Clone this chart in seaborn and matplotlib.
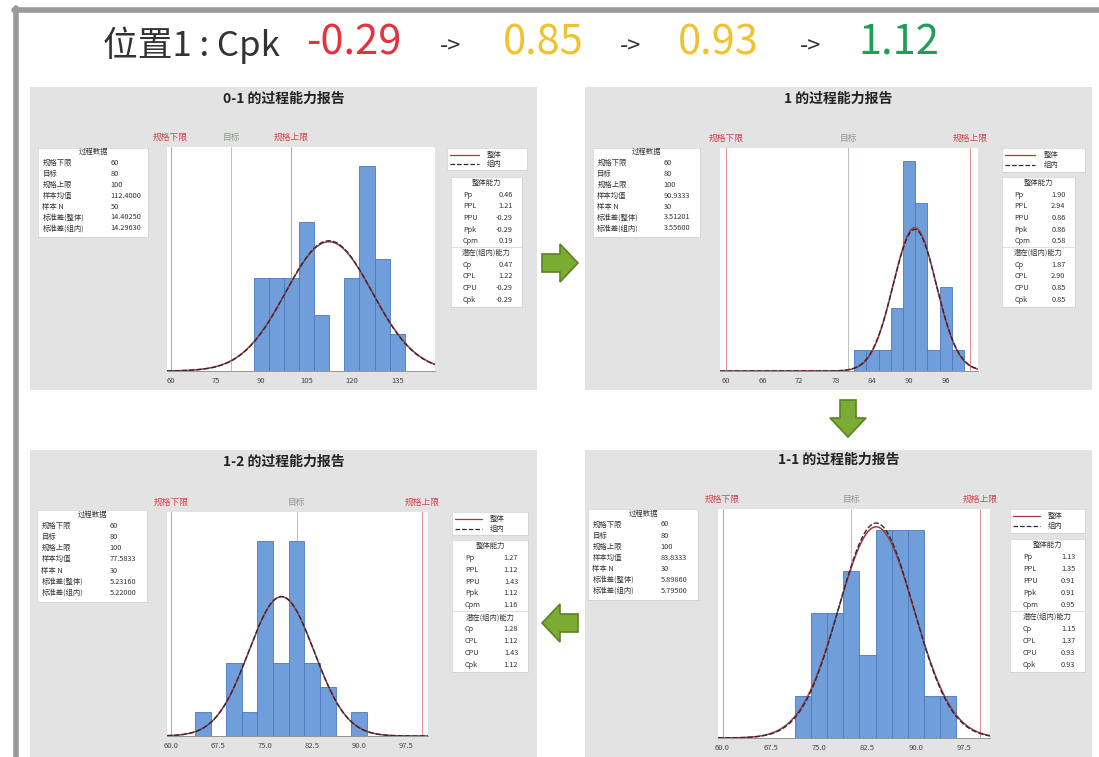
import numpy as np
import pandas as pd
import matplotlib
matplotlib.use("Agg")
import matplotlib.pyplot as plt
import matplotlib.patches as mpatches
import seaborn as sns

W, H = 1099, 757

# ---- 数据 ----
titles = ["0-1 的过程能力报告", "1 的过程能力报告", "1-2 的过程能力报告", "1-1 的过程能力报告"]

centers_01 = [90, 95, 100, 105, 110, 115, 120, 125, 130, 135]
counts_01 = [5, 5, 5, 8, 3, 0, 5, 11, 6, 2]
centers_1 = [82, 84, 86, 88, 90, 92, 94, 96, 98]
counts_1 = [1, 1, 1, 3, 10, 8, 1, 4, 1]
centers_12 = [65, 67.5, 70, 72.5, 75, 77.5, 80, 82.5, 85, 87.5, 90]
counts_12 = [1, 0, 3, 1, 8, 3, 8, 3, 2, 0, 1]
centers_11 = [72.5, 75, 77.5, 80, 82.5, 85, 87.5, 90, 92.5, 95]
counts_11 = [1, 3, 3, 4, 2, 5, 5, 5, 1, 1]

centers = [centers_01, centers_1, centers_12, centers_11]
counts = [counts_01, counts_1, counts_12, counts_11]
bin_w = [5, 2, 2.5, 2.5]

lsl, target, usl = 60, 80, 100
means = [112.400, 90.9333, 77.5833, 83.8333]
sd_overall = [14.4025, 3.51201, 5.23160, 5.89860]
sd_within = [14.2963, 3.55600, 5.22000, 5.79500]
sample_n = [50, 30, 30, 30]

overall_cap = [["0.46", "1.21", "-0.29", "-0.29", "0.19"],
               ["1.90", "2.94", "0.86", "0.86", "0.58"],
               ["1.27", "1.12", "1.43", "1.12", "1.16"],
               ["1.13", "1.35", "0.91", "0.91", "0.95"]]
within_cap = [["0.47", "1.22", "-0.29", "-0.29"],
              ["1.87", "2.90", "0.85", "0.85"],
              ["1.28", "1.12", "1.43", "1.12"],
              ["1.15", "1.37", "0.93", "0.93"]]

xticks = [[60, 75, 90, 105, 120, 135],
          [60, 66, 72, 78, 84, 90, 96],
          [60.0, 67.5, 75.0, 82.5, 90.0, 97.5],
          [60.0, 67.5, 75.0, 82.5, 90.0, 97.5]]
xlims = [(58.8, 147.5), (59.0, 101.3), (59.3, 101.0), (59.3, 101.5)]
ytops = [12.0, 10.6, 9.2, 5.5]

header_vals = ["-0.29", "0.85", "0.93", "1.12"]
header_colors = ["#e2343f", "#f0c22e", "#f0c22e", "#1e9e57"]

# ---- 版面 (像素) ----
panel_box = [(30, 87, 537, 390), (585, 87, 1092, 390), (30, 450, 537, 757), (585, 450, 1092, 757)]
plot_box = [(167, 147, 435, 371), (720, 148, 978, 371), (167, 512, 428, 736), (718, 509, 990, 738)]
left_box = [(38, 148, 148, 237), (593, 148, 700, 237), (37, 510, 147, 602), (588, 509, 698, 600)]
legend_box = [(447, 148, 527, 170), (1002, 148, 1085, 172), (452, 512, 528, 535), (1010, 509, 1085, 533)]
cap_box = [(451, 177, 522, 307), (1002, 177, 1075, 307), (452, 540, 528, 672), (1010, 539, 1085, 672)]
title_y = [99, 99, 462, 460]

sns.set_theme(style="white")
plt.rcParams["font.family"] = ["Noto Sans CJK SC", "DejaVu Sans"]
plt.rcParams["axes.unicode_minus"] = False

fig = plt.figure(figsize=(W / 100, H / 100), dpi=100)
fig.patch.set_facecolor("white")


def fig_axes(b):
    x0, y0, x1, y1 = b
    return fig.add_axes([x0 / W, 1 - y1 / H, (x1 - x0) / W, (y1 - y0) / H])


def fx(x):
    return x / W


def fy(y):
    return 1 - y / H


def plain_box(b):
    a = fig_axes(b)
    a.set_xticks([])
    a.set_yticks([])
    a.set_facecolor("white")
    for s in a.spines.values():
        s.set_color("#d0d0d0")
        s.set_linewidth(0.5)
    a.set_xlim(0, 1)
    a.set_ylim(0, 1)
    return a


# 外框
fig.add_artist(plt.Line2D([fx(16), fx(16)], [fy(8), fy(757)], color="#9a9a9a", lw=4))
fig.add_artist(plt.Line2D([fx(14), fx(1099)], [fy(10), fy(10)], color="#9a9a9a", lw=4))

# 标题行
fig.text(fx(103), fy(45), "位置1 : Cpk", fontsize=25, color="#333333", va="center", ha="left")
val_x = [306, 503, 678, 858]
arrow_x = [440, 620, 800]
for v, c, x in zip(header_vals, header_colors, val_x):
    fig.text(fx(x), fy(43), v, fontsize=30, color=c, va="center", ha="left")
for x in arrow_x:
    fig.text(fx(x), fy(47), "->", fontsize=17, color="#333333", va="center", ha="left")


# 绿色箭头
def green_arrow(pts):
    poly = mpatches.Polygon([(fx(x), fy(y)) for x, y in pts], closed=True,
                            transform=fig.transFigure, facecolor="#7cab33",
                            edgecolor="#5b8424", lw=1.2)
    fig.add_artist(poly)


green_arrow([(542, 254), (560, 254), (560, 244), (578, 263), (560, 282), (560, 272), (542, 272)])
green_arrow([(840, 400), (856, 400), (856, 418), (866, 418), (848, 437), (830, 418), (840, 418)])
green_arrow([(578, 614), (560, 614), (560, 604), (542, 623), (560, 642), (560, 632), (578, 632)])

cap_rows = ["Pp", "PPL", "PPU", "Ppk", "Cpm"]
within_rows = ["Cp", "CPL", "CPU", "Cpk"]
left_rows = ["规格下限", "目标", "规格上限", "样本均值", "样本 N", "标准差(整体)", "标准差(组内)"]
fs_box = 5.3

for i in range(4):
    # 背景
    x0, y0, x1, y1 = panel_box[i]
    fig.add_artist(mpatches.Rectangle((fx(x0), fy(y1)), (x1 - x0) / W, (y1 - y0) / H,
                                      transform=fig.transFigure, facecolor="#e3e3e3",
                                      edgecolor="none", zorder=0))
    fig.text(fx((x0 + x1) / 2), fy(title_y[i]), titles[i], fontsize=10,
             fontweight="bold", color="#222222", ha="center", va="center")

    # 直方图
    ax = fig_axes(plot_box[i])
    ax.set_facecolor("white")
    w = bin_w[i]
    df = pd.DataFrame({"x": centers[i], "n": counts[i]})
    lo = centers[i][0] - w / 2
    hi = centers[i][-1] + w / 2
    sns.histplot(data=df, x="x", weights="n", binwidth=w, binrange=(lo, hi), ax=ax,
                 color="#6f9edb", edgecolor="#4a78bd", linewidth=0.6, alpha=1)
    xs = np.linspace(xlims[i][0], xlims[i][1], 300)
    scale = sample_n[i] * w
    y_o = scale * np.exp(-0.5 * ((xs - means[i]) / sd_overall[i]) ** 2) / (sd_overall[i] * np.sqrt(2 * np.pi))
    y_w = scale * np.exp(-0.5 * ((xs - means[i]) / sd_within[i]) ** 2) / (sd_within[i] * np.sqrt(2 * np.pi))
    sns.lineplot(x=xs, y=y_o, ax=ax, color="#a8383a", lw=1.1)
    sns.lineplot(x=xs, y=y_w, ax=ax, color="#2b2b3a", lw=1.0, linestyle="--")
    for v, lab, col in [(lsl, "规格下限", "#d2424a"), (target, "目标", "#8a9a8a"), (usl, "规格上限", "#d2424a")]:
        ax.axvline(v, color=col, lw=0.6, alpha=0.7, zorder=0.5)
        ax.annotate(lab, xy=(v, 1), xycoords=("data", "axes fraction"), xytext=(0, 7),
                    textcoords="offset points", ha="center", va="center",
                    fontsize=6.3, color=col, annotation_clip=False)
    ax.set_xlim(*xlims[i])
    ax.set_ylim(0, ytops[i])
    ax.set_yticks([])
    ax.set_ylabel("")
    ax.set_xlabel("")
    ax.set_xticks(xticks[i])
    ax.set_xticklabels([f"{t:g}" if i < 2 else f"{t:.1f}" for t in xticks[i]])
    ax.tick_params(axis="x", labelsize=5.5, length=2, pad=2, colors="#444444")
    for s in ["top", "right", "left"]:
        ax.spines[s].set_visible(False)
    ax.spines["bottom"].set_color("#888888")
    ax.spines["bottom"].set_linewidth(0.6)

    # 过程数据
    bx = plain_box(left_box[i])
    bx.text(0.5, 0.95, "过程数据", fontsize=fs_box, ha="center", va="center", color="#333333")
    vals = [str(lsl), str(target), str(usl), f"{means[i]:.4f}", str(sample_n[i]),
            f"{sd_overall[i]:.5f}", f"{sd_within[i]:.5f}"]
    for k, (lab, v) in enumerate(zip(left_rows, vals)):
        yy = 0.83 - k * 0.122
        bx.text(0.04, yy, lab, fontsize=fs_box, ha="left", va="center", color="#333333")
        bx.text(0.66, yy, v, fontsize=fs_box, ha="left", va="center", color="#333333")

    # 图例
    lx = plain_box(legend_box[i])
    lx.plot([0.04, 0.4], [0.7, 0.7], color="#a8383a", lw=0.9)
    lx.plot([0.04, 0.4], [0.28, 0.28], color="#2b2b3a", lw=0.9, linestyle="--")
    lx.text(0.5, 0.7, "整体", fontsize=fs_box, va="center", color="#333333")
    lx.text(0.5, 0.28, "组内", fontsize=fs_box, va="center", color="#333333")

    # 能力
    cx = plain_box(cap_box[i])
    step = 0.09
    cx.text(0.5, 0.955, "整体能力", fontsize=fs_box, ha="center", va="center", color="#333333")
    for k, (lab, v) in enumerate(zip(cap_rows, overall_cap[i])):
        yy = 0.955 - (k + 1) * step
        cx.text(0.17, yy, lab, fontsize=fs_box, ha="left", va="center", color="#333333")
        cx.text(0.87, yy, v, fontsize=fs_box, ha="right", va="center", color="#333333")
    y_head = 0.955 - 6 * step
    cx.axhline(y_head + step / 2, color="#d0d0d0", lw=0.5)
    cx.text(0.5, y_head, "潜在(组内)能力", fontsize=fs_box, ha="center", va="center", color="#333333")
    for k, (lab, v) in enumerate(zip(within_rows, within_cap[i])):
        yy = y_head - (k + 1) * step
        cx.text(0.17, yy, lab, fontsize=fs_box, ha="left", va="center", color="#333333")
        cx.text(0.87, yy, v, fontsize=fs_box, ha="right", va="center", color="#333333")

fig.savefig("out.png", dpi=100)
